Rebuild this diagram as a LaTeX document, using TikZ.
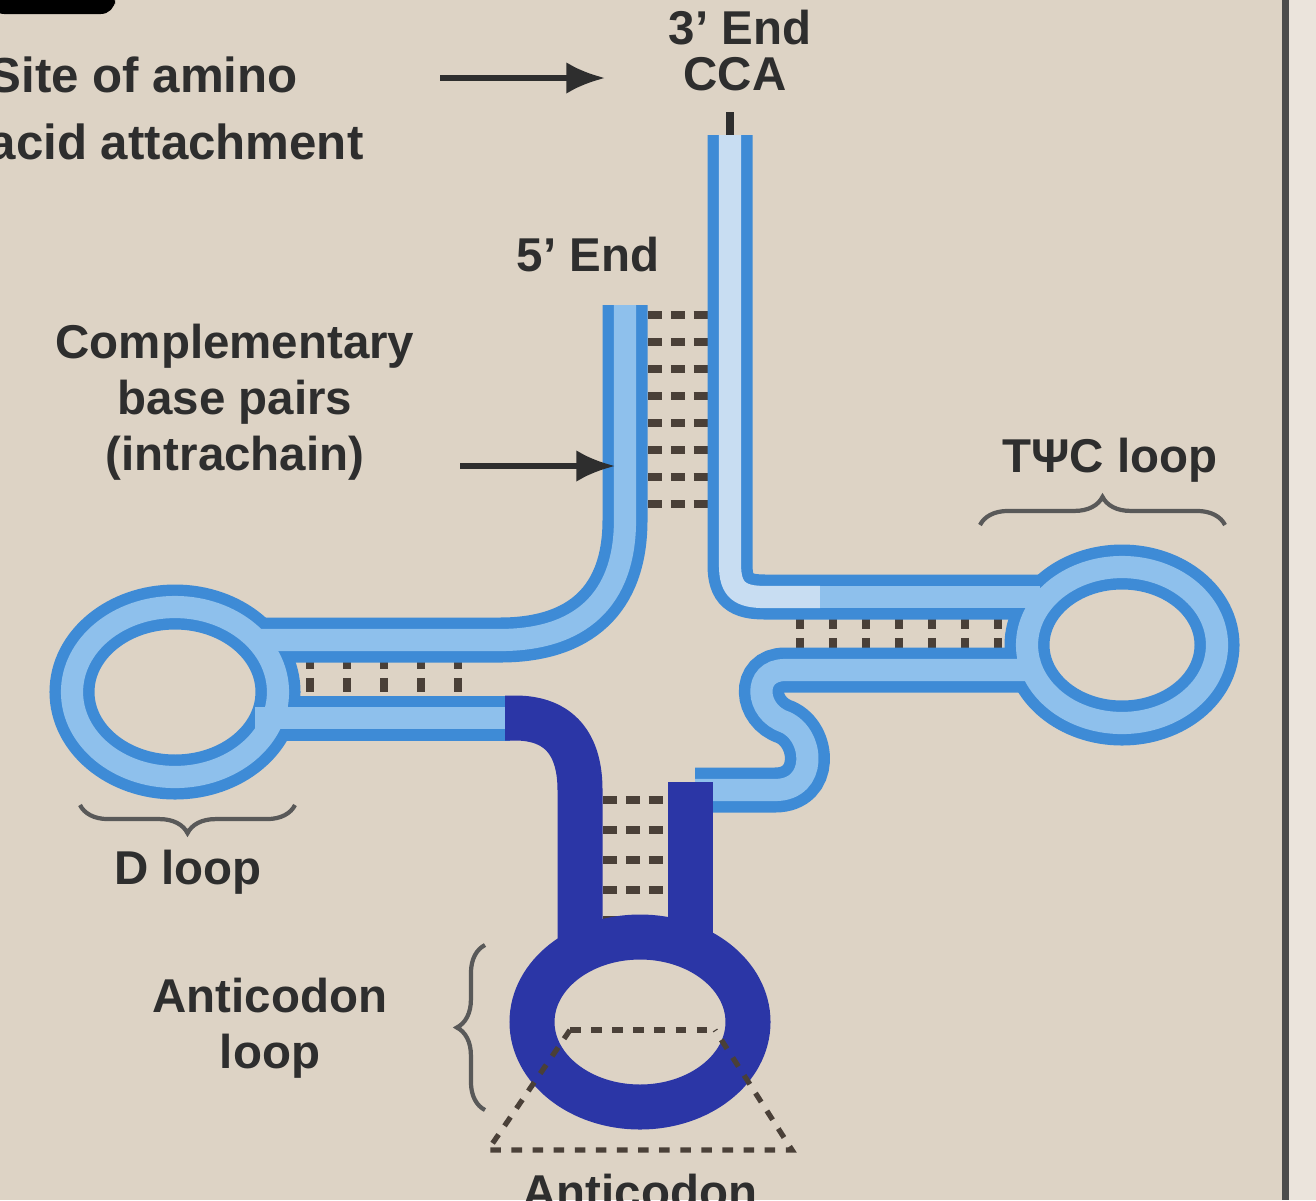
\documentclass[tikz,border=0pt]{standalone}
\usepackage{fontspec}
\setmainfont{Liberation Sans}
\usetikzlibrary{arrows.meta,decorations.pathreplacing}
\definecolor{bg}{HTML}{DDD3C5}
\definecolor{outerb}{HTML}{3E8BD6}
\definecolor{innerb}{HTML}{8EC0EC}
\definecolor{paleb}{HTML}{C8DDF2}
\definecolor{darkb}{HTML}{2B36A6}
\definecolor{txt}{HTML}{2E2E2E}
\definecolor{rung}{HTML}{4A4038}
\begin{document}
\begin{tikzpicture}[x=0.01cm,y=-0.01cm,
  lbl/.style={font=\fontsize{13.5}{16}\selectfont\bfseries,text=txt,align=center,inner sep=0pt},
  outerl/.style={line width=12.8pt,draw=outerb},
  innerl/.style={line width=6.3pt,draw=innerb},
  rungl/.style={draw=rung,line width=2.2pt,dash pattern=on 4pt off 2.5pt},
  arr/.style={draw=txt,line width=1.6pt,-{Latex[length=11pt,width=9pt]}},
  brc/.style={draw=gray!70!black,line width=1.2pt,decorate,decoration={brace,amplitude=8pt}}]
\useasboundingbox (0,0) rectangle (1316,1200);
\clip (0,0) rectangle (1316,1200);
\fill[bg] (0,0) rectangle (1316,1200);
\fill[bg!60!white] (1285,0) rectangle (1316,1200);
\draw[gray!60!black,line width=2pt] (1285,0) -- (1285,1200);
\fill[black,rounded corners=4pt] (-10,-10) rectangle (115,14);
\coordinate (fiveT) at (625,305);
\coordinate (threeT) at (730,135);
% base pair rungs
\foreach \y in {315,342,369,396,423,450,477,504} \draw[rungl] (648,\y) -- (710,\y);
\foreach \x in {310,347,384,421,458} \draw[rungl] (\x,655) -- (\x,705);
\foreach \x in {800,833,866,899,932,965,998} \draw[rungl] (\x,615) -- (\x,665);
\foreach \y in {800,830,860,890,920,945} \draw[rungl] (603,\y) -- (668,\y);
% outer tubes
\draw[outerl] (fiveT) -- (625,520) .. controls (625,600) and (580,640) .. (500,640) -- (255,640);
\draw[outerl] (175,692) ellipse [x radius=103,y radius=85];
\draw[outerl] (255,718) -- (510,718);
\draw[outerl] (threeT) -- (730,565) .. controls (730,590) and (740,597) .. (765,597) -- (1040,597);
\draw[outerl] (1122,645) ellipse [x radius=95,y radius=78];
\draw[outerl] (1040,670) -- (785,670) .. controls (752,670) and (755,712) .. (785,722) .. controls (815,735) and (818,790) .. (775,790) -- (695,790);
% inner
\draw[innerl] (fiveT) -- (625,520) .. controls (625,600) and (580,640) .. (500,640) -- (255,640);
\draw[innerl] (175,692) ellipse [x radius=103,y radius=85];
\draw[innerl] (255,718) -- (510,718);
\draw[innerl,draw=paleb] (threeT) -- (730,565) .. controls (730,590) and (740,597) .. (765,597) -- (820,597);
\draw[innerl] (820,597) -- (1040,597);
\draw[innerl] (1122,645) ellipse [x radius=95,y radius=78];
\draw[innerl] (1040,670) -- (785,670) .. controls (752,670) and (755,712) .. (785,722) .. controls (815,735) and (818,790) .. (775,790) -- (695,790);
% dark blue part
\draw[line width=12.8pt,draw=darkb] (505,718) -- (515,718) .. controls (560,718) and (580,745) .. (580,790) -- (580,955);
\draw[line width=12.8pt,draw=darkb] (690,782) -- (690,955);
\draw[line width=12.8pt,draw=darkb] (640,1022) ellipse [x radius=108,y radius=85];
% anticodon trapezoid
\draw[rung,line width=1.5pt,dashed] (570,1030) -- (715,1030);
\draw[rung,line width=1.5pt,dashed] (570,1030) -- (488,1150) -- (792,1150) -- (715,1030);
% labels
\node[lbl] (e3) at (740,28) {3' End};
\node[lbl] (cca) at (735,74) {CCA};
\coordinate (tk) at (730,112);
\draw[txt,line width=2.5pt] (tk) -- (threeT);
\node[lbl,anchor=west,align=left,font=\fontsize{14}{19}\selectfont\bfseries] (site) at (-12,108) {Site of amino\\acid attachment};
\draw[arr] (440,78) -- (605,78);
\node[lbl] (e5) at (588,255) {5' End};
\node[lbl] (comp) at (235,402) {Complementary\\base pairs\\(intrachain)};
\draw[arr] (460,466) -- (615,466);
\node[lbl] (tpc) at (1110,460) {TΨC loop};
\draw[brc] (980,525) -- (1225,525);
\node[lbl] (dl) at (188,872) {D loop};
\draw[brc] (295,805) -- (80,805);
\node[lbl] (acl) at (270,1028) {Anticodon\\loop};
\draw[brc] (485,1110) -- (485,945);
\node[lbl] (ac) at (640,1192) {Anticodon};
\end{tikzpicture}
\end{document}
